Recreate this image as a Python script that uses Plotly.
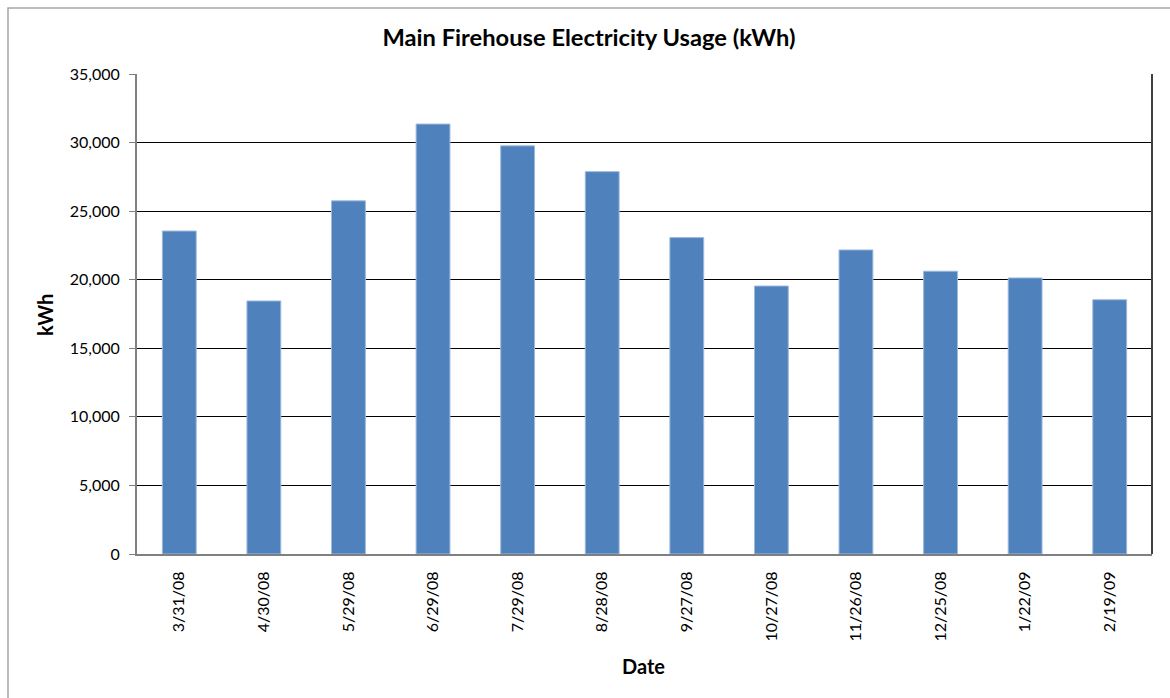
import plotly.graph_objects as go

# Monthly meter-read dates and electricity consumption
dates = ["3/31/08", "4/30/08", "5/29/08", "6/29/08", "7/29/08", "8/28/08",
         "9/27/08", "10/27/08", "11/26/08", "12/25/08", "1/22/09", "2/19/09"]
usage_kwh = [23550, 18450, 25750, 31350, 29760, 27880,
             23070, 19540, 22170, 20620, 20130, 18540]
y_ticks = [0, 5000, 10000, 15000, 20000, 25000, 30000, 35000]

FONT = "Lato, 'Open Sans', Arial, sans-serif"

fig = go.Figure(
    go.Bar(
        x=dates,
        y=usage_kwh,
        marker=dict(color="#4F81BD", line=dict(color="#9DB9DE", width=1)),
        width=0.4,
    )
)

fig.update_layout(
    width=1170,
    height=698,
    margin=dict(l=137, r=18, t=74, b=144),
    paper_bgcolor="white",
    plot_bgcolor="white",
    showlegend=False,
    font=dict(family=FONT, size=16, color="#000000"),
    title=dict(
        text="<b>Main Firehouse Electricity Usage (kWh)</b>",
        x=0.5034, xanchor="center", y=0.9456, yanchor="middle",
        font=dict(family=FONT, size=23.7, color="#000000"),
    ),
    xaxis=dict(
        tickangle=-90,
        showline=True, linecolor="#808080", linewidth=2,
        showgrid=False, ticks="",
        tickfont=dict(size=16),
        ticklabelstandoff=9,
    ),
    yaxis=dict(
        range=[0, 35000],
        tickvals=y_ticks,
        tickformat=",",
        showline=True, linecolor="#808080", linewidth=2,
        showgrid=True, gridcolor="#000000", gridwidth=1,
        ticks="outside", ticklen=6, tickcolor="#808080", tickwidth=1,
        tickfont=dict(size=16),
        ticklabelstandoff=6,
        zeroline=False,
    ),
    annotations=[
        dict(text="<b>kWh</b>", xref="paper", yref="paper",
             x=-0.0906, y=0.498, textangle=-90, showarrow=False,
             xanchor="center", yanchor="middle", font=dict(size=20)),
        dict(text="<b>Date</b>", xref="paper", yref="paper",
             x=0.499, y=-0.2333, showarrow=False,
             xanchor="center", yanchor="middle", font=dict(size=20)),
    ],
    shapes=[
        # right edge of plot area
        dict(type="line", xref="x domain", yref="y domain",
             x0=1, x1=1, y0=0, y1=1, line=dict(color="#404040", width=2)),
        # outer chart frame
        dict(type="rect", xref="paper", yref="paper",
             x0=-0.1271, x1=1.2, y0=-0.5, y1=1.1375,
             line=dict(color="#A6A6A6", width=1.5)),
    ],
)

fig.write_html("out.html")
